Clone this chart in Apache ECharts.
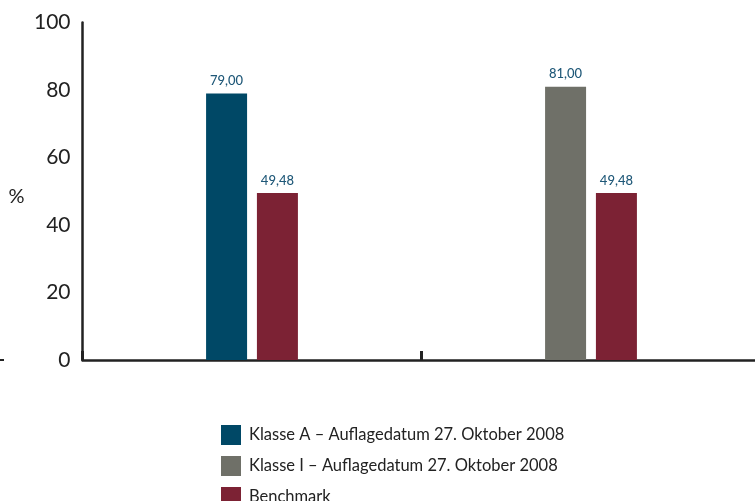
<!DOCTYPE html>
<html><head><meta charset="utf-8">
<script src="https://cdn.jsdelivr.net/npm/echarts@6/dist/echarts.min.js"></script>
<style>html,body{margin:0;padding:0;background:#fff}#c{width:755px;height:501px}</style>
</head><body><div id="c"></div>
<script>
const categories = ['Klasse', 'Klasse I'];
const seriesNames = ['Klasse A – Auflagedatum 27. Oktober 2008', 'Klasse I – Auflagedatum 27. Oktober 2008', 'Benchmark'];
const klasseA = [79.00, '-'];
const klasseI = ['-', 81.00];
const benchmark = [49.48, 49.48];
const yTicks = [0, 20, 40, 60, 80, 100];

const FONT = 'Lato';
const colors = ['#004866', '#6f7068', '#7c2234'];
const fmt = p => Number(p.value).toFixed(2).replace('.', ',');
const label = {show: true, position: 'top', distance: 6, formatter: fmt, color: '#1f5878', fontSize: 13, fontWeight: 500, fontFamily: FONT};

const chart = echarts.init(document.getElementById('c'));
chart.setOption({
  animation: false,
  textStyle: {fontFamily: FONT},
  grid: {left: 82.5, width: 678, top: 22.5, height: 337.5, containLabel: false, outerBoundsMode: 'none'},
  legend: {
    orient: 'vertical', left: 216, top: 420, height: 150, itemWidth: 20, itemHeight: 20, itemGap: 11,
    icon: 'rect', data: seriesNames,
    textStyle: {fontSize: 16.5, color: '#222', fontFamily: FONT, padding: [0, 0, 0, 3]}
  },
  graphic: [{type: 'line', shape: {x1: 0, y1: 360, x2: 4, y2: 360}, style: {stroke: '#222', lineWidth: 2}}],
  xAxis: {
    type: 'category', data: categories,
    axisLine: {lineStyle: {color: '#222', width: 2.5}},
    axisTick: {show: true, inside: true, length: 9, lineStyle: {color: '#222', width: 3}},
    axisLabel: {show: false}
  },
  yAxis: {
    type: 'value', min: yTicks[0], max: yTicks[yTicks.length - 1], interval: 20,
    name: '%', nameLocation: 'middle', nameRotate: 0, nameGap: 58,
    nameTextStyle: {fontSize: 20, color: '#222', fontFamily: FONT, verticalAlign: 'top', lineHeight: 10},
    axisLine: {show: true, lineStyle: {color: '#222', width: 2.5}},
    axisTick: {show: false},
    splitLine: {show: false},
    axisLabel: {fontSize: 21, color: '#222', margin: 12, fontFamily: FONT}
  },
  series: [
    {name: seriesNames[0], type: 'bar', stack: 'fund', data: klasseA, barWidth: 41, barGap: '24%', itemStyle: {color: colors[0]}, label},
    {name: seriesNames[1], type: 'bar', stack: 'fund', data: klasseI, barWidth: 41, barGap: '24%', itemStyle: {color: colors[1]}, label},
    {name: seriesNames[2], type: 'bar', data: benchmark, barWidth: 41, barGap: '24%', itemStyle: {color: colors[2]}, label}
  ]
});
</script></body></html>
